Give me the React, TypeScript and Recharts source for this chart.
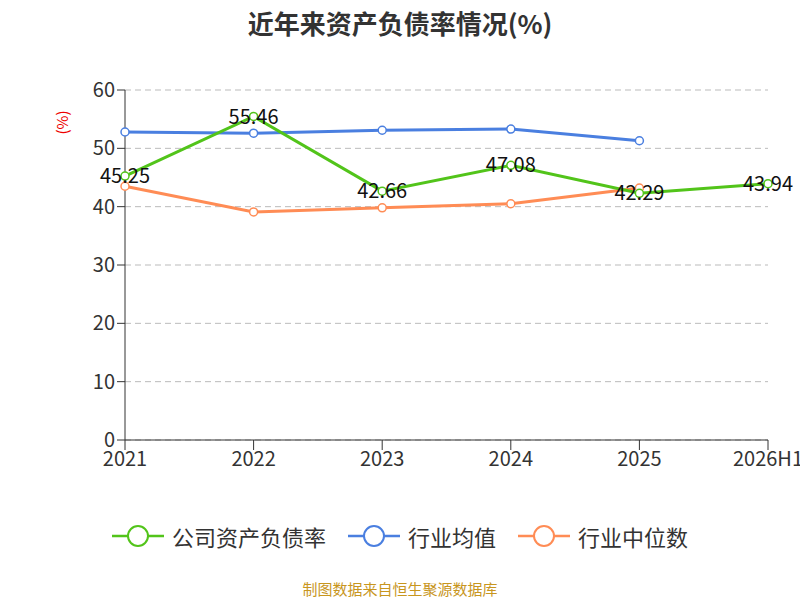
import React from "react";
import { LineChart, Line, XAxis, YAxis, CartesianGrid, LabelList } from "recharts";

const categories = ["2021", "2022", "2023", "2024", "2025", "2026H1"];
const company = [45.25, 55.46, 42.66, 47.08, 42.29, 43.94];
const industryAvg = [52.8, 52.6, 53.1, 53.3, 51.3, null];
const industryMedian = [43.5, 39.1, 39.8, 40.5, 43.2, null];
const yTicks = [0, 10, 20, 30, 40, 50, 60];

const data = categories.map((c, i) => ({
  name: c,
  company: company[i],
  avg: industryAvg[i],
  median: industryMedian[i],
}));

const legendItems = [
  { label: "公司资产负债率", color: "#52c41a" },
  { label: "行业均值", color: "#4a7fe0" },
  { label: "行业中位数", color: "#ff8c55" },
];

const font = "'Noto Sans CJK SC', 'Noto Sans', sans-serif";

export default function App() {
  return (
    <div style={{ position: "absolute", left: 0, top: 0, width: 800, height: 600, background: "#fff", fontFamily: font }}>
      <div style={{ position: "absolute", top: 4, width: 800, textAlign: "center", fontSize: 26, fontWeight: "bold", color: "#333" }}>
        近年来资产负债率情况(%)
      </div>
      <div style={{ position: "absolute", left: 50, top: 112, transform: "rotate(-90deg)", color: "#e00", fontSize: 15 }}>(%)</div>
      <LineChart width={800} height={600} data={data} margin={{ top: 90, right: 32, left: 0, bottom: 130 }}>
        <CartesianGrid vertical={false} stroke="#bbb" strokeDasharray="6 4" />
        <XAxis dataKey="name" height={30} tick={{ fontSize: 20, fill: "#333", fontFamily: font }} tickLine={{ stroke: "#333" }} axisLine={{ stroke: "#333" }} tickSize={10} interval={0} />
        <YAxis width={125} domain={[0, 60]} ticks={yTicks} tick={{ fontSize: 20, fill: "#333", fontFamily: font }} axisLine={{ stroke: "#333" }} tickLine={{ stroke: "#333" }} tickSize={8} />
        <Line dataKey="avg" stroke="#4a7fe0" strokeWidth={3} dot={{ r: 4, fill: "#fff", strokeWidth: 1.5 }} isAnimationActive={false} />
        <Line dataKey="median" stroke="#ff8c55" strokeWidth={3} dot={{ r: 4, fill: "#fff", strokeWidth: 1.5 }} isAnimationActive={false} />
        <Line dataKey="company" stroke="#52c41a" strokeWidth={3} dot={{ r: 4, fill: "#fff", strokeWidth: 1.5 }} isAnimationActive={false}>
          <LabelList dataKey="company" position="center" style={{ fontSize: 20, fill: "#111", fontFamily: font }} />
        </Line>
      </LineChart>
      <div style={{ position: "absolute", top: 520, width: 800, display: "flex", justifyContent: "center", gap: 22, fontSize: 22, color: "#333" }}>
        {legendItems.map((it) => (
          <div key={it.label} style={{ display: "flex", alignItems: "center", gap: 8 }}>
            <svg width={52} height={30}>
              <line x1={0} y1={15} x2={52} y2={15} stroke={it.color} strokeWidth={2.5} />
              <circle cx={26} cy={15} r={10} fill="#fff" stroke={it.color} strokeWidth={2} />
            </svg>
            <span>{it.label}</span>
          </div>
        ))}
      </div>
      <div style={{ position: "absolute", top: 578, width: 800, textAlign: "center", fontSize: 15, color: "#c8961e" }}>制图数据来自恒生聚源数据库</div>
    </div>
  );
}
